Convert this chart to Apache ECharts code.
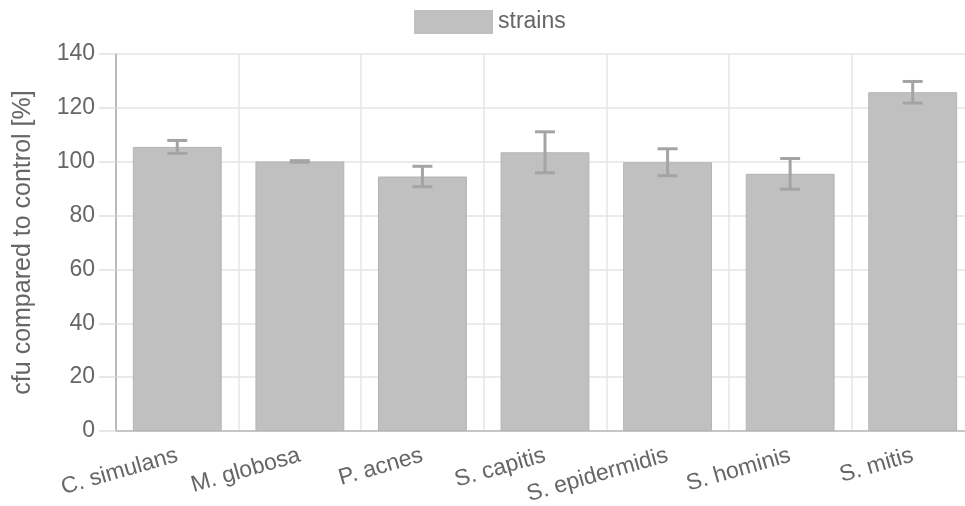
<!DOCTYPE html>
<html><head><meta charset="utf-8">
<script src="https://cdn.jsdelivr.net/npm/echarts@6/dist/echarts.min.js"></script>
<style>html,body{margin:0;padding:0;background:#fff}#c{width:965px;height:506px}</style>
</head><body><div id="c"></div>
<script>
const categories = ["C. simulans","M. globosa","P. acnes","S. capitis","S. epidermidis","S. hominis","S. mitis"];
const values = [105.5, 100.1, 94.5, 103.5, 99.8, 95.5, 125.8];
const errors = [2.4, 0.3, 3.8, 7.6, 5.0, 5.7, 4.0];
const yTicks = [0,20,40,60,80,100,120,140];

const FONT = "Liberation Sans";
const chart = echarts.init(document.getElementById('c'));
chart.setOption({
  animation:false,
  textStyle:{fontFamily:FONT},
  legend:{data:[{name:'strains',icon:'rect'}],top:5,left:409,itemWidth:79,itemHeight:24,itemGap:13,
    itemStyle:{borderWidth:0,color:'#c0c0c0'},
    textStyle:{fontSize:23,color:'#666',fontFamily:FONT}},
  grid:{left:116,top:54,bottom:75,right:-9,outerBoundsMode:'none',containLabel:false},
  xAxis:{type:'category',data:categories,
    axisLine:{lineStyle:{color:'#bbb',width:1.5}},
    axisTick:{length:19,lineStyle:{color:'#e0e0e0',width:1.5}},
    splitLine:{show:true,lineStyle:{color:'#e4e4e4',width:1.5}},
    axisLabel:{rotate:16,fontSize:23,color:'#666',margin:24,fontFamily:FONT}},
  yAxis:{type:'value',min:yTicks[0],max:yTicks[yTicks.length-1],interval:20,
    name:'cfu compared to control [%]',nameLocation:'middle',nameGap:80,
    nameTextStyle:{fontSize:25,color:'#666',fontFamily:FONT},
    axisLine:{show:true,lineStyle:{color:'#aaa',width:1.5}},
    axisTick:{show:true,length:17,lineStyle:{color:'#e0e0e0',width:1.5}},
    splitLine:{lineStyle:{color:'#e4e4e4',width:1.5}},
    axisLabel:{fontSize:23,color:'#666',margin:21,fontFamily:FONT}},
  series:[
    {name:'strains',type:'bar',data:values,barCategoryGap:'27.5%',
      itemStyle:{color:'#c0c0c0',borderColor:'#b4b4b4',borderWidth:1}},
    {name:'err',type:'custom',data:values.map((v,i)=>[i,v-errors[i],v+errors[i]]),z:10,
      renderItem:function(params,api){
        const x=api.value(0);
        const lo=api.coord([x,api.value(1)]);
        const hi=api.coord([x,api.value(2)]);
        const hw=10;
        const st={stroke:'#a4a4a4',lineWidth:3};
        return {type:'group',children:[
          {type:'line',shape:{x1:lo[0],y1:lo[1],x2:hi[0],y2:hi[1]},style:st},
          {type:'line',shape:{x1:lo[0]-hw,y1:lo[1],x2:lo[0]+hw,y2:lo[1]},style:st},
          {type:'line',shape:{x1:hi[0]-hw,y1:hi[1],x2:hi[0]+hw,y2:hi[1]},style:st}
        ]};
      }}
  ]
});
</script></body></html>
